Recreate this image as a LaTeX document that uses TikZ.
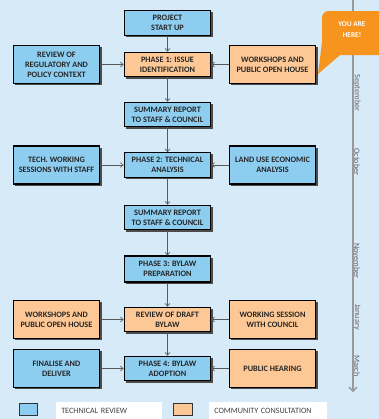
\documentclass[tikz,border=0pt]{standalone}
\usepackage{fontspec}
\setmainfont{Carlito}
\usetikzlibrary{positioning,arrows.meta,shadows}
\definecolor{techblue}{HTML}{8DCDF0}
\definecolor{consorange}{HTML}{FDC895}
\definecolor{bgblue}{HTML}{D6EAF8}
\definecolor{herecol}{HTML}{F7941D}
\tikzset{
	% boxes of the process
	base/.style = {rectangle, draw=black, line width=0.8pt,
	               minimum width=65pt, minimum height=18.5pt,
	               align=center, inner sep=1pt, text=black!85,
	               font=\fontsize{6.2}{7.6}\selectfont\bfseries,
	               drop shadow={shadow xshift=1.3pt, shadow yshift=-1.3pt,
	                            fill=black!70, opacity=1}},
	tech/.style = {base, fill=techblue},
	cons/.style = {base, fill=consorange},
	side/.style = {minimum height=28.5pt},
	flow/.style = {draw=black!65, line width=0.5pt,
	               -{Straight Barb[length=2pt,width=3.5pt]}},
	month/.style = {rotate=-90, text=black!60,
	                font=\fontsize{6.2}{7}\selectfont},
	% legend
	legkey/.style = {rectangle, draw=black!80, line width=0.6pt,
	                 minimum width=14pt, minimum height=9pt, inner sep=0pt},
	legtext/.style = {fill=white, anchor=west, minimum height=12.75pt,
	                  inner xsep=3.75pt, inner ysep=0pt, text=black!75,
	                  font=\fontsize{6.1}{7}\selectfont}
}
\begin{document}
\begin{tikzpicture}[x=0.75pt, y=-0.75pt]
	\fill[bgblue] (0,0) rectangle (379,419);
	\useasboundingbox (0,0) rectangle (379,419);

	% timeline
	\coordinate (tltop) at (353,0);
	\coordinate (tlend) at (353,392);
	\draw[black!40, line width=1pt, -{Straight Barb[length=3pt,width=6pt]}] (tltop) -- (tlend);
	\node (sep) [month] at (357,93)  {September};
	\node (oct) [month] at (357,162) {October};
	\node (nov) [month] at (357,261) {November};
	\node (jan) [month] at (357,317) {January};
	\node (mar) [month] at (357,366) {March};

	% you are here
	\fill[herecol, rounded corners=5pt] (322,11) rectangle (395,55);
	\fill[herecol] (322,42) -- (318,74) -- (340,55) -- (334,44) -- cycle;
	\node (here) [align=center, text=white, font=\fontsize{5.5}{8.2}\selectfont\bfseries]
		at (352,30) {YOU ARE\\HERE!};

	% process
	\node (start) [tech] at (167.5,23)    {PROJECT\\START UP};
	\node (ph1)   [cons] at (167.5,64.5)  {PHASE 1: ISSUE\\IDENTIFICATION};
	\node (reg)   [tech, side] at (56.5,64.5)  {REVIEW OF\\REGULATORY AND\\POLICY CONTEXT};
	\node (wsh)   [cons, side] at (272.5,64.5) {WORKSHOPS AND\\PUBLIC OPEN HOUSE};
	\node (sum1)  [tech] at (167.5,114.5) {SUMMARY REPORT\\TO STAFF \& COUNCIL};
	\node (ph2)   [tech] at (167.5,165)   {PHASE 2: TECHNICAL\\ANALYSIS};
	\node (tws)   [tech, side] at (56.5,165)  {TECH. WORKING\\SESSIONS WITH STAFF};
	\node (lue)   [tech, side] at (272.5,165) {LAND USE ECONOMIC\\ANALYSIS};
	\node (sum2)  [tech] at (167.5,217.5) {SUMMARY REPORT\\TO STAFF \& COUNCIL};
	\node (ph3)   [tech, minimum height=19.5pt] at (167.5,269) {PHASE 3: BYLAW\\PREPARATION};
	\node (rdb)   [cons] at (167.5,319.5) {REVIEW OF DRAFT\\BYLAW};
	\node (wsh2)  [cons, side] at (56.5,319.5)  {WORKSHOPS AND\\PUBLIC OPEN HOUSE};
	\node (wsc)   [cons, side] at (272.5,319.5) {WORKING SESSION\\WITH COUNCIL};
	\node (ph4)   [tech] at (167.5,368.5) {PHASE 4: BYLAW\\ADOPTION};
	\node (fin)   [tech, side] at (56.5,368.5)  {FINALISE AND\\DELIVER};
	\node (phr)   [cons, side] at (272.5,368.5) {PUBLIC HEARING};

	\draw[flow] (start) -- (ph1);
	\draw[flow] (reg) -- (ph1);
	\draw[flow] (wsh) -- (ph1);
	\draw[flow] (ph1) -- (sum1);
	\draw[flow] (sum1) -- (ph2);
	\draw[flow] (tws) -- (ph2);
	\draw[flow] (lue) -- (ph2);
	\draw[flow] (ph2) -- (sum2);
	\draw[flow] (sum2) -- (ph3);
	\draw[flow] (ph3) -- (rdb);
	\draw[flow] (wsh2) -- (rdb);
	\draw[flow] (wsc) -- (rdb);
	\draw[flow] (rdb) -- (ph4);
	\draw[flow] (fin) -- (ph4);
	\draw[flow] (phr) -- (ph4);

	% legend
	\node (ltech) [legkey, fill=techblue] at (28.5,409) {};
	\node (ltechtxt) [legtext, text width=72pt] at (56,410.5) {TECHNICAL REVIEW};
	\node (lcons) [legkey, fill=consorange] at (183,409) {};
	\node (lconstxt) [legtext, text width=81pt] at (209,410.5) {COMMUNITY CONSULTATION};
\end{tikzpicture}
\end{document}
